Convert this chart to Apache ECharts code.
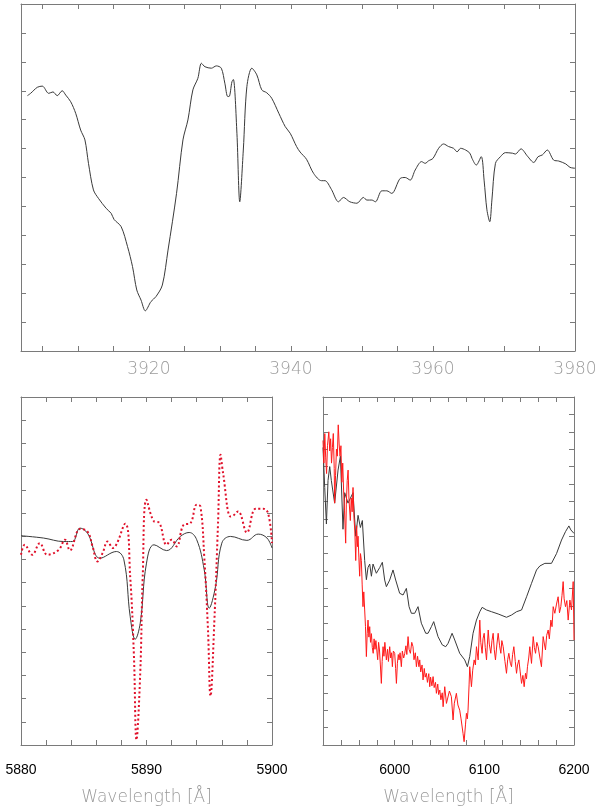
<!DOCTYPE html>
<html>
<head>
<meta charset="utf-8">
<script src="https://cdn.jsdelivr.net/npm/echarts@6/dist/echarts.min.js"></script>
<style>
html,body{margin:0;padding:0;background:#fff;}
#chart{width:600px;height:812px;}
</style>
</head>
<body>
<div id="chart"></div>
<script>
// ---------- DATA ----------
// Top panel: Ca II H&K region, wavelength (Å) vs flux (arbitrary units)
const topSpectrum = [
 [3902.9,8.83],[3903.35,8.91],[3904.3,9.12],[3905.0,9.16],[3905.9,8.91],[3906.5,8.96],[3907.1,8.83],[3907.8,9.0],
 [3908.3,8.85],[3909.0,8.62],[3909.7,8.22],[3910.4,7.64],[3911.0,7.3],[3911.5,6.49],[3912.2,5.57],[3912.9,5.28],
 [3914.0,4.93],[3914.7,4.76],[3915.1,4.55],[3916.1,4.3],[3917.0,3.61],[3917.7,2.92],[3918.3,2.11],[3918.9,1.76],
 [3919.5,1.39],[3920.3,1.71],[3921.0,1.88],[3921.9,2.28],[3922.7,3.49],[3923.9,5.45],[3924.8,7.3],[3925.5,7.99],
 [3926.2,9.03],[3926.9,9.43],[3927.4,9.95],[3927.9,9.83],[3928.8,9.78],[3929.5,9.86],[3930.2,9.78],[3930.7,9.26],
 [3931.1,8.8],[3931.3,8.8],[3931.7,9.31],[3931.9,9.39],[3932.4,7.53],[3932.8,5.16],[3933.3,6.95],[3933.8,9.14],
 [3934.5,9.78],[3935.2,9.55],[3935.9,9.03],[3936.6,8.93],[3937.3,8.74],[3938.3,8.22],[3939.2,7.76],[3939.9,7.53],
 [3940.8,7.07],[3941.3,6.88],[3942.2,6.63],[3943.2,6.14],[3944.3,5.89],[3944.8,5.89],[3945.7,5.59],[3946.7,5.16],
 [3947.4,5.31],[3948.3,5.16],[3949.3,5.11],[3950.2,5.31],[3950.7,5.22],[3951.4,5.22],[3951.9,5.16],[3952.8,5.54],
 [3953.5,5.54],[3954.2,5.45],[3955.4,5.97],[3956.1,6.0],[3956.8,5.91],[3957.5,6.26],[3958.4,6.55],[3958.9,6.49],
 [3959.4,6.58],[3960.0,6.66],[3960.8,7.01],[3961.5,7.16],[3962.2,7.07],[3962.9,7.01],[3963.4,6.89],[3963.9,7.01],
 [3964.6,6.95],[3965.2,6.84],[3965.5,6.66],[3966.1,6.43],[3966.8,6.72],[3967.2,5.91],[3967.6,4.88],[3968.0,4.47],
 [3968.3,5.22],[3968.8,6.49],[3969.5,6.72],[3970.2,6.86],[3971.2,6.84],[3971.6,6.81],[3972.4,6.99],[3973.3,6.74],
 [3974.2,6.52],[3974.8,6.72],[3975.4,6.78],[3976.1,6.95],[3977.0,6.6],[3977.7,6.57],[3978.7,6.47],[3979.3,6.35],
 [3980.0,6.32]
];

// Bottom-left: Na D region, model (black) and observed (red dotted)
const naModel = [
 [5880,9.02],[5881.8,8.92],[5883.4,8.77],[5884.1,8.77],[5884.7,9.35],[5885.3,9.13],[5886.3,8.05],[5887.6,8.34],
 [5888.2,7.98],[5888.7,5.54],[5889.1,4.56],[5889.5,5.25],[5890.0,7.84],[5890.6,8.63],[5891.6,8.38],[5892.7,8.99],
 [5893.4,9.16],[5894.0,8.85],[5894.6,7.55],[5895.0,5.90],[5895.5,6.83],[5896.0,8.70],[5896.7,8.99],[5898.0,8.82],
 [5898.9,9.09],[5899.6,8.92],[5900,8.49]
];
const naObserved = [
 [5880,8.2],[5880.3,8.63],[5880.9,8.2],[5881.5,8.7],[5882.1,8.2],[5883.0,8.41],[5883.5,8.85],[5883.9,8.39],
 [5884.7,9.31],[5885.3,9.2],[5885.7,8.56],[5886.1,7.91],[5886.5,8.27],[5886.9,8.77],[5887.3,8.49],[5888.3,9.54],
 [5888.7,7.26],[5889.0,3.81],[5889.2,0.22],[5889.5,3.09],[5889.7,7.26],[5890.0,10.57],[5890.6,9.64],[5891.0,9.59],
 [5891.6,8.63],[5892.0,8.85],[5892.4,8.56],[5892.96,9.49],[5893.5,9.56],[5894.0,10.36],[5894.3,10.28],[5894.6,8.13],
 [5894.9,4.96],[5895.1,2.11],[5895.4,5.25],[5895.7,9.56],[5895.9,12.51],[5896.1,11.72],[5896.7,9.85],[5896.9,9.88],
 [5897.3,10.07],[5898.0,9.16],[5898.7,10.18],[5899.3,10.18],[5899.7,9.97],[5900,8.7]
];

// Bottom-right: 5920-6200 Å, model (black) and observed (red)
const broadModel = [
 [5920,17.1],[5921.9,14.8],[5923.8,12.7],[5925.6,15.2],[5927.5,16.0],[5929.3,15.2],[5933.0,13.9],[5936.8,15.8],
 [5939.4,16.6],[5942.3,12.4],[5944.2,14.5],[5947.9,13.9],[5953.5,14.5],[5956.5,12.0],[5959.1,13.2],[5961.7,12.5],
 [5963.9,12.9],[5966.5,10.6],[5968.4,9.5],[5970.2,10.2],[5972.1,10.4],[5974.0,9.7],[5975.8,10.4],[5979.5,9.87],
 [5983.3,10.2],[5986.2,10.5],[5988.8,9.48],[5990.7,9.1],[5994.4,9.48],[5998.1,10.06],[6001.1,9.48],[6005.5,8.72],
 [6009.3,8.62],[6013.0,9.0],[6016.0,7.95],[6018.6,7.57],[6022.3,7.57],[6026.0,7.95],[6029.7,7.0],[6034.6,6.42],
 [6037.2,6.42],[6040.9,6.8],[6043.5,7.09],[6048.3,6.23],[6053.1,5.75],[6056.9,5.65],[6059.5,5.84],[6064.0,6.42],
 [6067.0,6.03],[6072.5,5.27],[6078.1,4.89],[6081.1,4.5],[6083.7,5.08],[6087.4,6.42],[6091.2,7.18],[6094.9,7.66],
 [6097.5,7.91],[6102.4,7.76],[6108.0,7.66],[6115.4,7.53],[6124.7,7.34],[6130.3,7.47],[6135.9,7.66],[6141.5,7.76],
 [6147.1,8.52],[6152.6,9.29],[6158.2,10.06],[6161.9,10.29],[6167.5,10.44],[6174.9,10.44],[6180.5,11.0],[6186.1,11.78],
 [6190.5,12.26],[6194.3,12.59],[6196.5,12.36],[6200,12.16]
];
const broadObserved = [
 [5920,17.5],[5921,16.2],[5922,17.9],[5923,16.5],[5924,15.6],[5925,17.2],[5926.5,18.0],[5927.5,16.9],[5928.5,17.6],
 [5929.5,16.2],[5930.5,17.1],[5931.5,17.9],[5932.5,15.9],[5933,13.9],[5934,15.5],[5935,17.0],[5936,16.6],[5937,18.4],
 [5938,17.3],[5939,16.6],[5940,17.2],[5941,15.1],[5942,16.2],[5943,14.6],[5944,13.5],[5945.3,11.6],[5946,13.8],
 [5947,15.2],[5948,15.8],[5949,14.1],[5950.5,12.9],[5951.5,14.2],[5952.5,13.4],[5953.5,14.8],[5954.5,13.1],
 [5955.5,12.3],[5956.5,10.6],[5957.5,12.6],[5958.5,11.4],[5959.1,12.0],[5960,10.8],[5960.9,9.7],[5961.8,11.0],
 [5962.8,10.6],[5963.7,9.2],[5964.6,7.95],[5965.5,8.8],[5966.5,7.76],[5967.4,6.8],[5968.4,5.08],[5969.3,6.4],
 [5970.2,7.18],[5971.2,6.2],[5972.1,6.8],[5973,5.9],[5974,6.4],[5975,5.6],[5976,5.27],[5977,6.1],[5978,5.5],
 [5979,6.0],[5980,5.46],[5981,4.9],[5982,5.9],[5983,5.46],[5984,4.6],[5985.1,3.54],[5986,4.8],[5987,5.65],
 [5988,5.1],[5989,5.9],[5990.7,4.89],[5992,5.5],[5993,4.8],[5994.4,5.65],[5995.5,5.0],[5996.5,5.3],[5997.4,4.5],
 [5998.5,5.4],[6000,5.27],[6001,4.4],[6001.9,3.54],[6003,4.7],[6004,5.2],[6004.8,4.89],[6006,5.3],[6007.4,4.5],
 [6008.5,5.4],[6010,5.0],[6011.2,5.27],[6012.5,5.7],[6013.5,5.2],[6014.9,6.23],[6016,5.5],[6017.5,5.27],[6019,5.9],
 [6020.4,5.65],[6021.5,4.9],[6023,5.3],[6024.2,4.5],[6025.5,5.1],[6027,4.5],[6027.9,4.89],[6029,4.2],[6030.5,4.6],
 [6031.6,3.74],[6033,4.4],[6034,3.9],[6035.3,4.12],[6036.5,3.6],[6038,4.1],[6039.1,3.35],[6040,3.9],[6041.5,3.4],
 [6042.8,3.93],[6044,3.3],[6045.5,3.6],[6046.5,2.97],[6048,3.5],[6049,2.9],[6050.3,3.16],[6051.5,2.6],[6053,3.0],
 [6054,2.2],[6055.8,3.35],[6057.7,2.39],[6059.5,2.39],[6061,3.1],[6063.2,2.78],[6065.1,1.44],[6066.5,2.4],
 [6068.8,2.97],[6070.5,2.3],[6072.5,2.0],[6074,1.5],[6076.2,0.67],[6077.4,0.19],[6079,1.2],[6080,1.82],[6081,1.5],
 [6081.8,2.0],[6083,3.5],[6083.7,4.5],[6085.6,3.35],[6087,4.3],[6088.6,4.89],[6090,4.6],[6091.2,5.65],[6093.1,4.89],
 [6094.9,7.18],[6096,5.9],[6097.5,5.27],[6098.5,6.1],[6099.8,6.42],[6101,5.6],[6102.4,4.89],[6103.4,5.8],
 [6104.3,6.61],[6105.5,5.8],[6107.2,5.27],[6108.5,6.0],[6109.8,6.42],[6111,5.5],[6112.4,4.89],[6114,5.8],
 [6115.4,6.42],[6117,5.7],[6118.4,5.27],[6119.5,6.0],[6121,5.65],[6123,4.8],[6124.7,4.12],[6126,4.9],[6127.3,5.27],
 [6129,4.7],[6130.3,4.5],[6131.5,5.2],[6132.9,5.65],[6134.5,4.8],[6135.9,4.12],[6137,4.6],[6138.5,4.89],[6140,4.2],
 [6141.5,3.54],[6143,4.0],[6144.4,3.35],[6145.9,4.12],[6147,3.8],[6148.1,4.5],[6149.5,5.0],[6150.7,5.65],
 [6152.6,4.69],[6154.5,6.23],[6155.8,5.6],[6157.1,5.27],[6158.5,5.9],[6160,5.65],[6162,5.0],[6163.7,4.5],
 [6165.6,6.23],[6167,5.8],[6168.2,5.46],[6169.5,6.3],[6171.2,6.61],[6172.5,6.1],[6174.2,7.18],[6175.5,6.8],
 [6176.8,7.95],[6178.6,7.57],[6180.5,8.1],[6182.3,8.52],[6183.8,7.6],[6185.3,7.95],[6186.6,8.6],[6187.9,9.39],
 [6189,8.4],[6190.5,7.95],[6192,8.3],[6193.5,7.18],[6195.4,8.33],[6197.2,7.76],[6199.1,9.39],[6200,6.03]
];

// Tick positions and labels
const topXTicks = [3905,3910,3915,3920,3925,3930,3935,3940,3945,3950,3955,3960,3965,3970,3975,3980];
const topXLabels = [3920,3940,3960,3980];
const naXTicks = [5880,5882,5884,5886,5888,5890,5892,5894,5896,5898,5900];
const naXLabels = [5880,5890,5900];
const broadXTicks = [5920,5940,5960,5980,6000,6020,6040,6060,6080,6100,6120,6140,6160,6180,6200];
const broadXLabels = [6000,6100,6200];
const xTitle = 'Wavelength [Å]';

// ---------- CHART ----------
const FRAME = '#7a7a7a';
const chart = echarts.init(document.getElementById('chart'), null, {renderer: 'canvas'});

const grids = [
  {left: 21, top: 4, width: 554, height: 347},
  {left: 21, top: 397, width: 251, height: 348},
  {left: 323, top: 397, width: 251, height: 348}
];

const xAxes = [], yAxes = [];
function addFrame(gi, xmin, xmax, ticks, labels, ymax, labelStyle, name) {
  const tick = {show: true, inside: true, length: 5, lineStyle: {color: FRAME, width: 1}, customValues: ticks};
  xAxes.push({
    type: 'value', gridIndex: gi, position: 'bottom', min: xmin, max: xmax,
    axisLine: {show: true, onZero: false, lineStyle: {color: FRAME, width: 1}},
    axisTick: tick, splitLine: {show: false},
    axisLabel: Object.assign({show: true, customValues: labels, showMinLabel: true, showMaxLabel: true,
      formatter: v => String(Math.round(v))}, labelStyle),
    name: name || '', nameLocation: 'middle', nameGap: 44,
    nameTextStyle: {fontFamily: 'DejaVu Sans', fontWeight: 200, fontSize: 17, color: '#9a9a9a'}
  });
  xAxes.push({
    type: 'value', gridIndex: gi, position: 'top', min: xmin, max: xmax,
    axisLine: {show: true, onZero: false, lineStyle: {color: FRAME, width: 1}},
    axisTick: tick, splitLine: {show: false}, axisLabel: {show: false}
  });
  const ytick = {show: true, inside: true, length: 5, lineStyle: {color: FRAME, width: 1}};
  yAxes.push({
    type: 'value', gridIndex: gi, position: 'left', min: 0, max: ymax, interval: 1,
    axisLine: {show: true, onZero: false, lineStyle: {color: FRAME, width: 1}},
    axisTick: ytick, splitLine: {show: false}, axisLabel: {show: false}
  });
  yAxes.push({
    type: 'value', gridIndex: gi, position: 'right', min: 0, max: ymax, interval: 1,
    axisLine: {show: true, onZero: false, lineStyle: {color: FRAME, width: 1}},
    axisTick: ytick, splitLine: {show: false}, axisLabel: {show: false}
  });
}

const topLabelStyle = {margin: 10, fontFamily: 'DejaVu Sans', fontWeight: 200, fontSize: 17, color: '#9a9a9a'};
const botLabelStyle = {margin: 18, fontFamily: 'Liberation Sans', fontSize: 14, color: '#000'};

addFrame(0, 3902, 3980, topXTicks, topXLabels, 12, topLabelStyle);
addFrame(1, 5880, 5900, naXTicks, naXLabels, 15, botLabelStyle, xTitle);
addFrame(2, 5920, 6200, broadXTicks, broadXLabels, 20, botLabelStyle, xTitle);

function line(data, gi, color, opts) {
  return Object.assign({
    type: 'line', data: data, xAxisIndex: gi * 2, yAxisIndex: gi * 2,
    showSymbol: false, symbol: 'none', silent: true, clip: true,
    lineStyle: {color: color, width: 1}
  }, opts || {});
}

chart.setOption({
  animation: false,
  backgroundColor: '#fff',
  grid: grids,
  xAxis: xAxes,
  yAxis: yAxes,
  series: [
    line(topSpectrum, 0, '#3a3a3a', {smooth: 0.3}),
    line(naModel, 1, '#3a3a3a', {smooth: 0.4}),
    line(naObserved, 1, '#e0102a', {smooth: 0.4, lineStyle: {color: '#e0102a', width: 2, type: [2, 2.5]}}),
    line(broadModel, 2, '#3a3a3a'),
    line(broadObserved, 2, '#ff1a1a')
  ]
});
</script>
</body>
</html>
